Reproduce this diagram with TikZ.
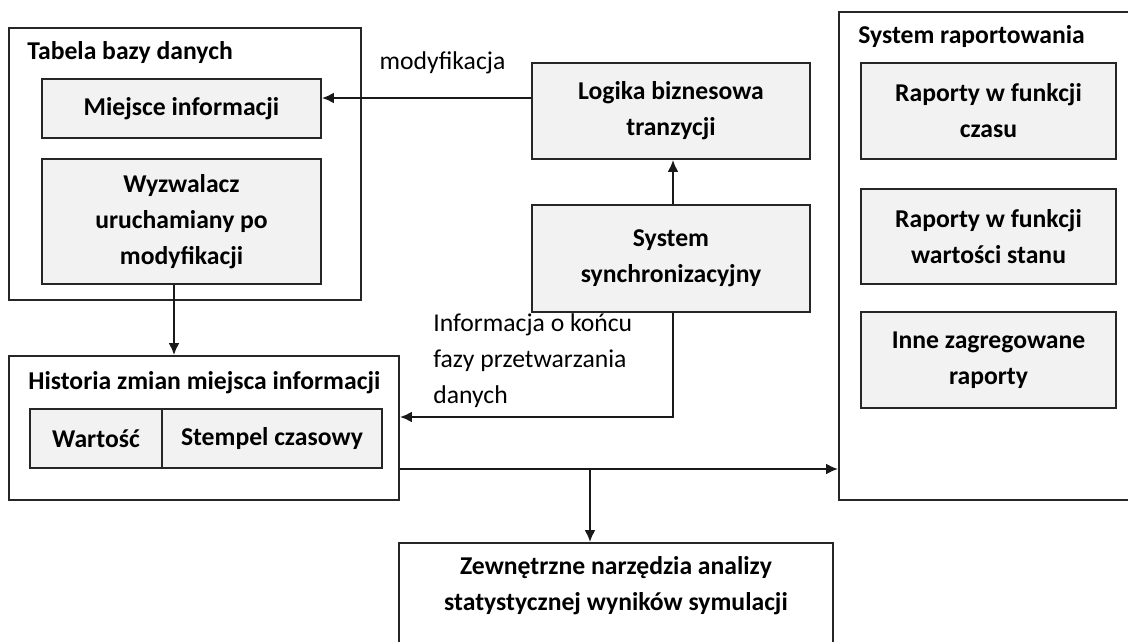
\documentclass[tikz,border=0pt]{standalone}
\usepackage{fontspec}
\setmainfont{Carlito}
\usetikzlibrary{arrows.meta}

\begin{document}
\begin{tikzpicture}[
    box/.style={draw=black!85, line width=1.1pt, inner sep=0pt, align=center, font=\fontsize{14.6}{20.5}\selectfont\bfseries},
    inner/.style={box, fill=black!5},
    title/.style={anchor=west, inner sep=0pt, font=\fontsize{14.6}{20.5}\selectfont\bfseries},
    note/.style={anchor=west, inner sep=0pt, align=left, font=\fontsize{14.6}{20.5}\selectfont},
    arr/.style={-{Latex[length=2.4mm,width=2.2mm]}, line width=1.1pt, draw=black!90}
]
\useasboundingbox (0,0) rectangle (22.56,-12.84);

% kontenery
\node[box, minimum width=7.04cm, minimum height=5.44cm] (tabela) at (3.70,-3.28) {};
\node[box, minimum width=7.80cm, minimum height=2.88cm] (historia) at (4.08,-8.56) {};
\node[box, minimum width=5.86cm, minimum height=9.76cm] (raport) at (19.71,-5.12) {};
\node[title] (tabelaT) at (0.54,-1.06) {Tabela bazy danych};
\node[title] (historiaT) at (0.56,-7.66) {Historia zmian miejsca informacji};
\node[title] (raportT) at (17.16,-0.74) {System raportowania};

% bloki
\node[inner, minimum width=5.58cm, minimum height=1.18cm] (miejsce) at (3.63,-2.17) {Miejsce informacji};
\node[inner, minimum width=5.58cm, minimum height=2.50cm] (wyzw) at (3.63,-4.43) {Wyzwalacz\\uruchamiany po\\modyfikacji};
\node[inner, minimum width=2.64cm, minimum height=1.18cm] (wartosc) at (1.92,-8.77) {Wartość};
\node[inner, minimum width=4.40cm, minimum height=1.18cm] (stempel) at (5.44,-8.77) {Stempel czasowy};
\node[inner, minimum width=5.56cm, minimum height=1.92cm] (logika) at (13.42,-2.22) {Logika biznesowa\\tranzycji};
\node[inner, minimum width=5.56cm, minimum height=2.14cm] (sync) at (13.42,-5.17) {System\\synchronizacyjny};
\node[inner, minimum width=5.10cm, minimum height=1.92cm] (czasu) at (19.77,-2.22) {Raporty w funkcji\\czasu};
\node[inner, minimum width=5.10cm, minimum height=1.90cm] (stanu) at (19.77,-4.73) {Raporty w funkcji\\wartości stanu};
\node[inner, minimum width=5.10cm, minimum height=1.92cm] (inne) at (19.77,-7.20) {Inne zagregowane\\raporty};
\node[box, minimum width=8.68cm, minimum height=3cm, anchor=north,
      label={[align=center, anchor=center, yshift=-0.87cm, font=\fontsize{14.6}{20.5}\selectfont\bfseries]north:Zewnętrzne narzędzia analizy\\statystycznej wyników symulacji}] (zewn) at (12.32,-10.84) {};

% opisy
\node[note, anchor=center] (mod) at (8.85,-1.26) {modyfikacja};
\node[note] (info) at (8.66,-7.22) {Informacja o końcu\\fazy przetwarzania\\danych};

% strzalki
\coordinate (split) at (11.80,-9.38);
\draw[arr] ([yshift=2.6mm]logika.west) -- ([yshift=2.6mm]logika.west -| miejsce.east);
\draw[arr] ([xshift=0.4mm]sync.north) -- ([xshift=0.4mm]logika.south);
\draw[arr] ([xshift=-1.5mm]wyzw.south) -- ([xshift=-1.5mm]wyzw.south |- historia.north);
\draw[arr] ([xshift=0.4mm]sync.south) |- ([yshift=2.2mm]historia.east);
\draw[arr] (historia.east |- split) -- (raport.west |- split);
\draw[arr] (split) -- (split |- zewn.north);
\end{tikzpicture}
\end{document}
